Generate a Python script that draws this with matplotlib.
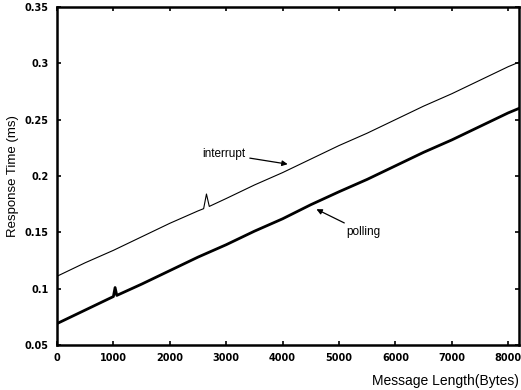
import matplotlib.pyplot as plt
from matplotlib.ticker import FormatStrFormatter

# Response time vs message length, interrupt and polling modes
intr_len = [0, 500, 1000, 1500, 2000, 2500, 2600, 2650, 2700, 3000, 3500,
            4000, 4500, 5000, 5500, 6000, 6500, 7000, 7500, 8000, 8192]
intr_time = [0.111, 0.123, 0.134, 0.146, 0.158, 0.169, 0.171, 0.184, 0.173,
             0.180, 0.192, 0.203, 0.215, 0.227, 0.238, 0.250, 0.262, 0.273,
             0.285, 0.297, 0.301]

poll_len = [0, 500, 1000, 1030, 1060, 1500, 2000, 2500, 3000, 3500, 4000,
            4500, 5000, 5500, 6000, 6500, 7000, 7500, 8000, 8192]
poll_time = [0.069, 0.081, 0.093, 0.101, 0.094, 0.104, 0.116, 0.128, 0.139,
             0.151, 0.162, 0.1745, 0.186, 0.197, 0.209, 0.221, 0.232, 0.244,
             0.256, 0.260]

x_ticks = [0, 1000, 2000, 3000, 4000, 5000, 6000, 7000, 8000]
y_ticks = [0.05, 0.1, 0.15, 0.2, 0.25, 0.3, 0.35]

plt.rcParams['font.family'] = ['Liberation Sans', 'DejaVu Sans']

fig = plt.figure(figsize=(5.21, 3.90), dpi=100)
ax = fig.add_axes([0.1094, 0.1154, 0.8868, 0.8667])

ax.plot(intr_len, intr_time, color='black', linewidth=0.8)
ax.plot(poll_len, poll_time, color='black', linewidth=2.0)

ax.set_xlim(0, 8192)
ax.set_ylim(0.05, 0.35)
ax.set_xticks(x_ticks)
ax.set_yticks(y_ticks)
ax.yaxis.set_major_formatter(FormatStrFormatter('%g'))
ax.tick_params(direction='in', length=3, width=1.2, top=True, right=True,
               labelsize=7, pad=6)
for lbl in ax.get_xticklabels() + ax.get_yticklabels():
    lbl.set_fontweight('bold')
    lbl.set_family('DejaVu Sans')
for side in ax.spines.values():
    side.set_linewidth(1.8)

ax.set_ylabel('Response Time (ms)', fontsize=9.5, labelpad=4)
ax.set_xlabel('Message Length(Bytes)', fontsize=10, loc='right', labelpad=8)

arrow = dict(arrowstyle='-|>', color='black', linewidth=0.9,
             mutation_scale=8, shrinkA=1, shrinkB=0)
ax.annotate('interrupt', xy=(4090, 0.2105), xytext=(2580, 0.2195),
            fontsize=8.5, va='center', arrowprops=arrow)
ax.annotate('polling', xy=(4600, 0.1705), xytext=(5130, 0.150),
            fontsize=8.5, va='center', arrowprops=arrow)

fig.savefig('out.png', dpi=100)
